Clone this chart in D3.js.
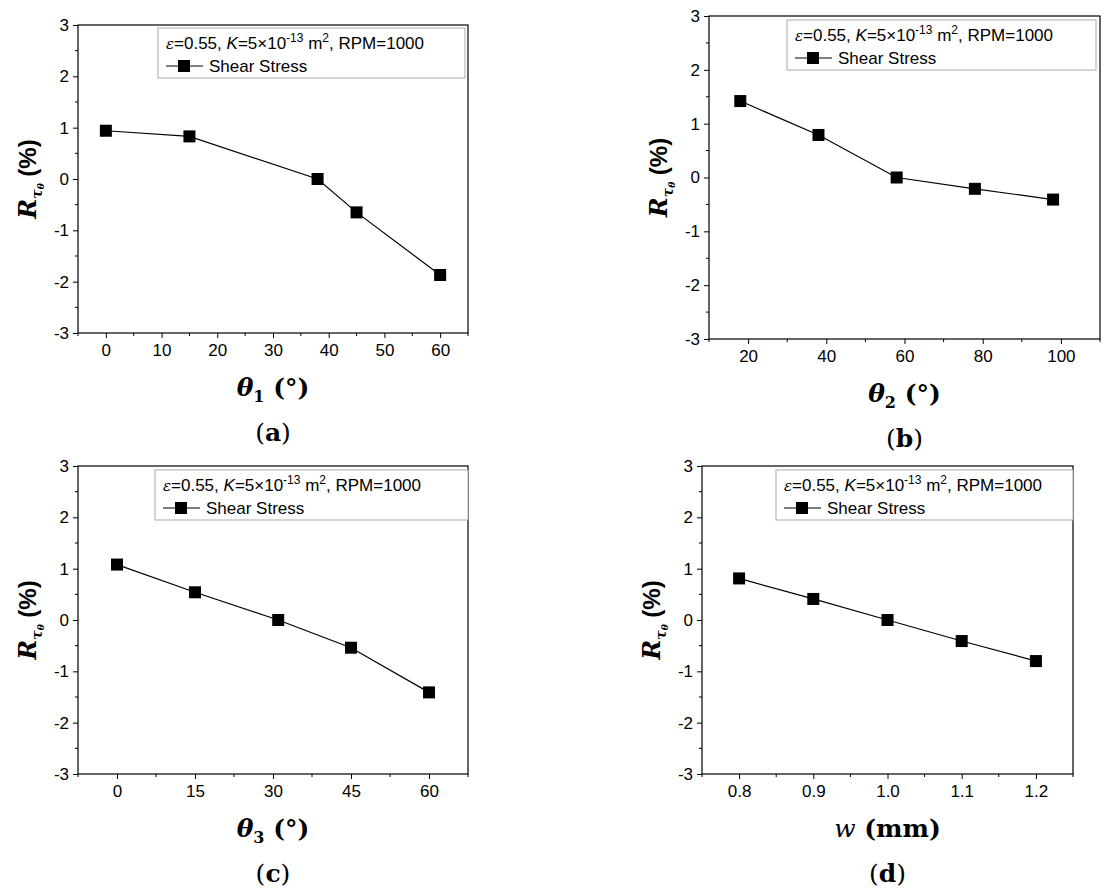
<!DOCTYPE html>
<html><head><meta charset="utf-8">
<script src="https://cdn.jsdelivr.net/npm/d3@7"></script>
<style>body{margin:0;background:#fff}</style>
</head><body><svg id="c" width="1109" height="895"></svg>
<script>
const xA=[0,15,38,45,60], yA=[0.94,0.83,0,-0.65,-1.87];
const xB=[18,38,58,78,98], yB=[1.42,0.79,0,-0.21,-0.41];
const xC=[0,15,31,45,60], yC=[1.08,0.54,0,-0.54,-1.41];
const xD=[0.8,0.9,1.0,1.1,1.2], yD=[0.81,0.41,0,-0.41,-0.80];
const yTicks=[-3,-2,-1,0,1,2,3];
const ticksA=[0,10,20,30,40,50,60], ticksB=[20,40,60,80,100], ticksC=[0,15,30,45,60], ticksD=[0.8,0.9,1.0,1.1,1.2];
const panels=[
 {xs:xA,ys:yA,ticks:ticksA,dom:[-5,65],box:[78,468,25,333],leg:[158,465,28],sub:"1",lab:"a",fmt:d=>String(d),minor:5},
 {xs:xB,ys:yB,ticks:ticksB,dom:[10,110],box:[709,1100,16,339],leg:[787,1096,20],sub:"2",lab:"b",fmt:d=>String(d),minor:10},
 {xs:xC,ys:yC,ticks:ticksC,dom:[-7.5,67.5],box:[78,468,466,774],leg:[155,468,470],sub:"3",lab:"c",fmt:d=>String(d),minor:7.5},
 {xs:xD,ys:yD,ticks:ticksD,dom:[0.75,1.25],box:[702,1073,466,774],leg:[776,1073,470],sub:null,lab:"d",fmt:d=>d.toFixed(1),minor:0.05}
];
const svg=d3.select("#c");
panels.forEach(p=>{
 const [l,r,t,b]=p.box;
 const x=d3.scaleLinear().domain(p.dom).range([l,r]);
 const y=d3.scaleLinear().domain([-3,3]).range([b,t]);
 const g=svg.append("g").attr("font-family","Liberation Sans, Arial").attr("font-size",17);
 const xa=g.append("g").attr("transform",`translate(0,${b})`).call(d3.axisBottom(x).tickValues(p.ticks).tickFormat(p.fmt).tickSize(5).tickSizeOuter(0).tickPadding(6));
 const minX=d3.range(p.dom[0],p.dom[1]+1e-9,p.minor).filter(v=>!p.ticks.some(k=>Math.abs(k-v)<1e-9));
 g.append("g").selectAll("line").data(minX).join("line").attr("x1",d=>x(d)).attr("x2",d=>x(d)).attr("y1",b).attr("y2",b+3).attr("stroke","#000");
 const ya=g.append("g").attr("transform",`translate(${l},0)`).call(d3.axisLeft(y).tickValues(yTicks).tickFormat(d=>String(d)).tickSize(5).tickSizeOuter(0).tickPadding(4));
 g.append("g").selectAll("line").data(d3.range(-2.5,3,1)).join("line").attr("x1",l).attr("x2",l-3).attr("y1",d=>y(d)).attr("y2",d=>y(d)).attr("stroke","#000");
 [xa,ya].forEach(a=>{a.attr("font-family","Liberation Sans, Arial").attr("font-size",17);a.selectAll("text").attr("fill","#000");a.select(".domain").remove();});
 g.append("rect").attr("x",l).attr("y",t).attr("width",r-l).attr("height",b-t).attr("fill","none").attr("stroke","#000").attr("stroke-width",1.2);
 const [ll,lr,lt]=p.leg;
 g.append("rect").attr("x",ll).attr("y",lt).attr("width",lr-ll).attr("height",50).attr("fill","#fff").attr("stroke","#aaa");
 const tt=g.append("text").attr("x",ll+8).attr("y",lt+21).attr("font-size",17);
 tt.append("tspan").attr("font-family","DejaVu Serif").attr("font-style","italic").attr("font-size",15).text("ε");
 tt.append("tspan").text("=0.55, ");
 tt.append("tspan").attr("font-style","italic").text("K");
 tt.append("tspan").text("=5×10");
 tt.append("tspan").attr("font-size",12).attr("dy",-7).text("-13");
 tt.append("tspan").attr("dy",7).text(" m");
 tt.append("tspan").attr("font-size",12).attr("dy",-7).text("2");
 tt.append("tspan").attr("dy",7).text(", RPM=1000");
 g.append("line").attr("x1",ll+8).attr("x2",ll+45).attr("y1",lt+38).attr("y2",lt+38).attr("stroke","#000");
 g.append("rect").attr("x",ll+20).attr("y",lt+32).attr("width",12).attr("height",12).attr("fill","#000");
 g.append("text").attr("x",ll+51).attr("y",lt+44).text("Shear Stress");
 const pts=p.xs.map((v,i)=>[v,p.ys[i]]);
 g.append("path").datum(pts).attr("d",d3.line().x(d=>x(d[0])).y(d=>y(d[1]))).attr("fill","none").attr("stroke","#000").attr("stroke-width",1.2);
 g.selectAll(".m").data(pts).join("rect").attr("x",d=>x(d[0])-6).attr("y",d=>y(d[1])-6).attr("width",12).attr("height",12).attr("fill","#000");
 const yl=g.append("text").attr("transform",`translate(${l-42},${(t+b)/2}) rotate(-90)`).attr("text-anchor","middle").attr("font-size",24).attr("font-weight","bold");
 yl.append("tspan").attr("font-family","DejaVu Serif").attr("font-style","italic").text("R");
 yl.append("tspan").attr("font-family","DejaVu Serif").attr("font-style","italic").attr("font-size",14).attr("dy",6).text("τ");
 yl.append("tspan").attr("font-family","DejaVu Serif").attr("font-style","italic").attr("font-size",9).attr("dy",2).text("θ");
 yl.append("tspan").attr("dy",-8).text(" (%)");
 const xl=g.append("text").attr("x",(l+r)/2).attr("y",b+63).attr("text-anchor","middle").attr("font-family","DejaVu Serif").attr("font-size",25).attr("font-weight","bold");
 if(p.sub){xl.append("tspan").attr("font-style","italic").text("θ");xl.append("tspan").attr("font-size",16).attr("dy",6).text(p.sub);xl.append("tspan").attr("dy",-6).text(" (°)");}
 else {xl.append("tspan").attr("font-style","italic").attr("font-weight","normal").text("w");xl.append("tspan").text(" (mm)");}
 g.append("text").attr("x",(l+r)/2).attr("y",b+108).attr("text-anchor","middle").attr("font-family","DejaVu Serif").attr("font-size",25)
  .html(`(<tspan font-weight="bold">${p.lab}</tspan>)`);
});
</script></body></html>
